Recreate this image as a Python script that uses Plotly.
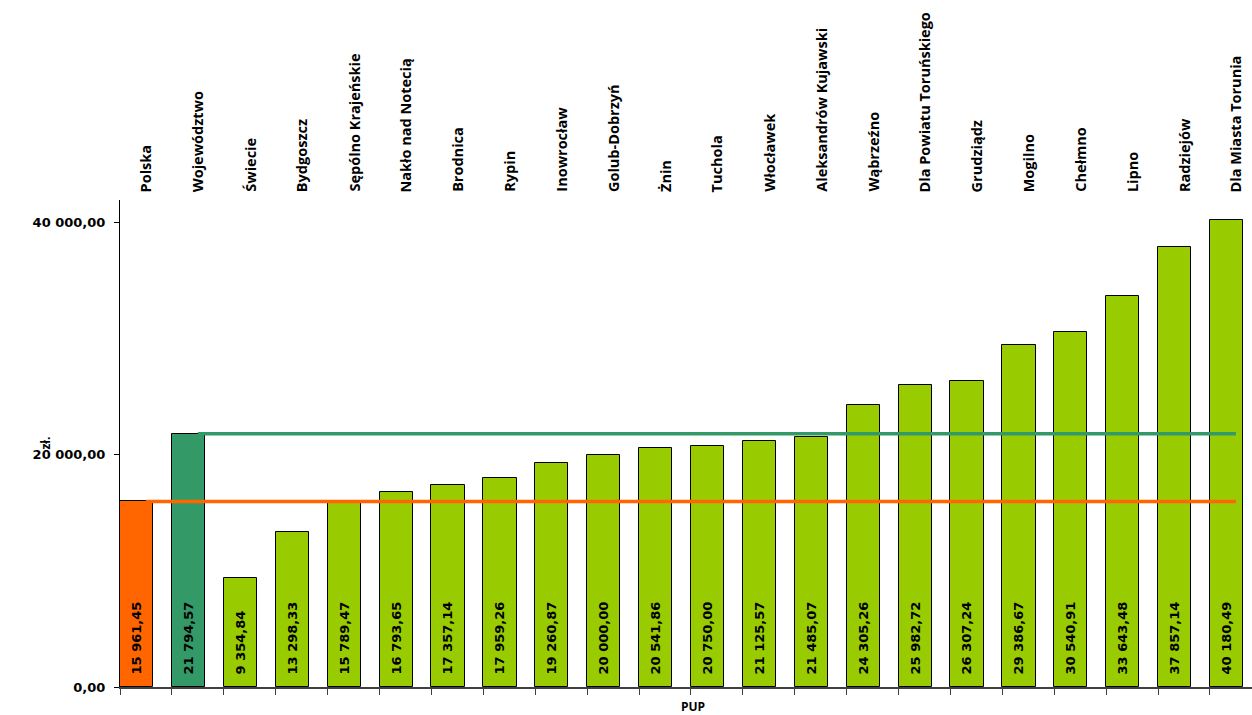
import plotly.graph_objects as go

# Dane: przeciętny koszt (zł) wg PUP
categories = ['Polska', 'Województwo', 'Świecie', 'Bydgoszcz', 'Sępólno Krajeńskie',
              'Nakło nad Notecią', 'Brodnica', 'Rypin', 'Inowrocław', 'Golub-Dobrzyń',
              'Żnin', 'Tuchola', 'Włocławek', 'Aleksandrów Kujawski', 'Wąbrzeźno',
              'Dla Powiatu Toruńskiego', 'Grudziądz', 'Mogilno', 'Chełmno', 'Lipno',
              'Radziejów', 'Dla Miasta Torunia']
values = [15961.45, 21794.57, 9354.84, 13298.33, 15789.47, 16793.65, 17357.14,
          17959.26, 19260.87, 20000.00, 20541.86, 20750.00, 21125.57, 21485.07,
          24305.26, 25982.72, 26307.24, 29386.67, 30540.91, 33643.48, 37857.14,
          40180.49]
polska_avg = 15961.45
wojewodztwo_avg = 21794.57
y_ticks = [0, 20000, 40000]
y_tick_labels = ['0,00', '20 000,00', '40 000,00']


def pl_fmt(v):
    return f'{v:,.2f}'.replace(',', ' ').replace('.', ',')


idx = list(range(len(categories)))
colors = ['#FF6600', '#339966'] + ['#99CC00'] * (len(categories) - 2)

fig = go.Figure()
fig.add_trace(go.Bar(
    x=idx, y=values, offset=-0.5, width=0.64,
    marker=dict(color=colors, line=dict(color='#000000', width=1)),
    text=['\u00a0\u00a0' + pl_fmt(v) for v in values], textposition='inside',
    insidetextanchor='start', textangle=-90, constraintext='none',
    textfont=dict(family='DejaVu Sans', size=13, color='#000000', weight='bold'),
    showlegend=False))

fig.add_trace(go.Scatter(x=idx, y=[polska_avg] * len(idx), mode='lines',
                         line=dict(color='#FF6600', width=3.5), showlegend=False))
fig.add_trace(go.Scatter(x=idx[1:], y=[wojewodztwo_avg] * (len(idx) - 1), mode='lines',
                         line=dict(color='#339966', width=3.5), showlegend=False))

# nazwy PUP nad wykresem
for i, name in enumerate(categories):
    fig.add_annotation(x=i, y=1, xref='x', yref='paper', text='<b>' + name + '</b>',
                       textangle=-90, showarrow=False, xanchor='center', yanchor='bottom',
                       yshift=6, font=dict(family='Open Sans', size=14.5, color='#000000'))

# tytuły osi
fig.add_annotation(x=0.506, y=0, xref='paper', yref='paper', text='<b>PUP</b>',
                   showarrow=False, yanchor='middle', yshift=-19,
                   font=dict(family='Open Sans', size=12, color='#000000'))
fig.add_annotation(x=0, y=0.5, xref='paper', yref='paper', text='<b>zł.</b>',
                   textangle=-90, showarrow=False, xanchor='center', xshift=-75,
                   font=dict(family='Open Sans', size=12, color='#000000'))

fig.update_layout(
    width=1252, height=715,
    margin=dict(l=120, r=0, t=200, b=28, autoexpand=False),
    plot_bgcolor='white', paper_bgcolor='white',
    bargap=0,
    xaxis=dict(range=[-0.5, 21.31], tickvals=[i - 0.5 for i in range(len(idx) + 1)],
               ticktext=[''] * (len(idx) + 1), ticks='outside', ticklen=6,
               tickcolor='#404040', showline=True, linecolor='#404040', linewidth=1.5,
               showgrid=False, zeroline=False, automargin=False),
    yaxis=dict(range=[0, 41900], tickvals=y_ticks, ticktext=y_tick_labels,
               ticks='outside', ticklen=5, tickcolor='#000000', showline=True,
               linecolor='#000000', linewidth=1, showgrid=False, zeroline=False,
               ticklabelstandoff=6, automargin=False,
               tickfont=dict(family='DejaVu Sans', size=13, color='#000000', weight='bold')),
)

fig.write_html('out.html', config={'displayModeBar': False},
               post_script="document.body.style.margin='0';document.body.style.overflow='hidden';")
